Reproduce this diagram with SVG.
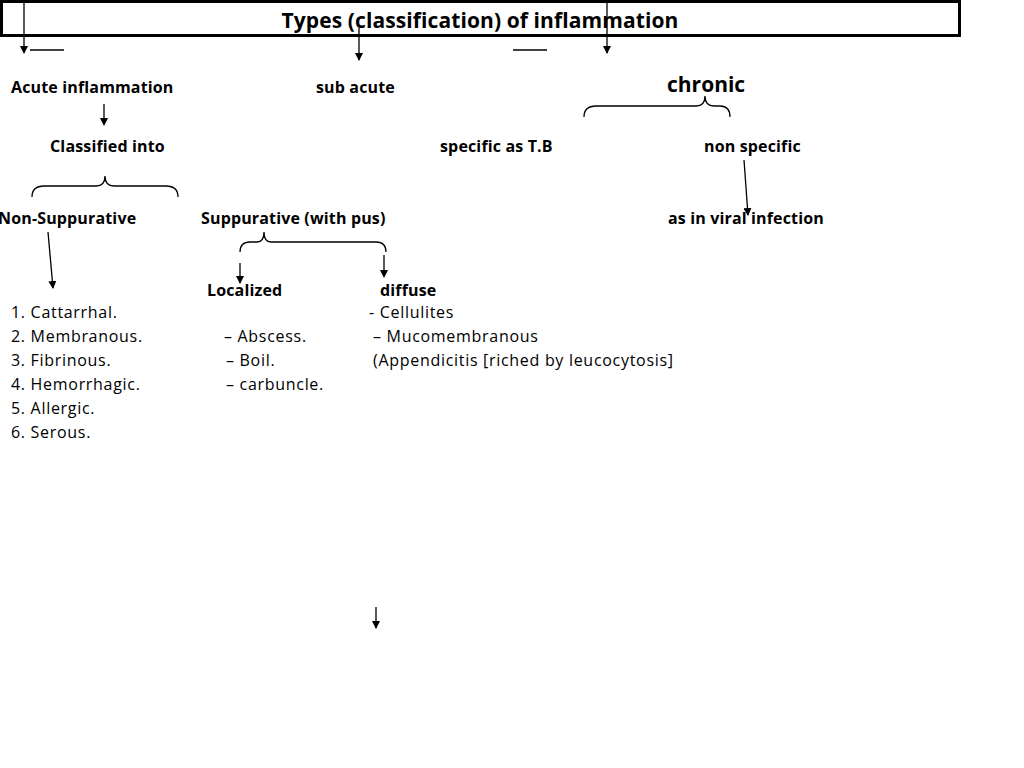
<svg xmlns="http://www.w3.org/2000/svg" width="1024" height="768" viewBox="0 0 1024 768">
<style>
text{font-family:"Open Sans","Liberation Sans",sans-serif;fill:#000}
.b{font-weight:bold;font-size:16px;letter-spacing:0.15px}
.n{font-size:16px;letter-spacing:0.7px}
.l{stroke:#000;stroke-width:1.3;fill:none}
</style>
<defs><marker id="a" markerWidth="8" markerHeight="8" refX="7" refY="4" orient="auto" markerUnits="userSpaceOnUse"><path d="M0,0L8,4L0,8z" fill="#000"/></marker></defs>
<rect width="1024" height="768" fill="#fff"/>
<g id="title"><rect x="1.5" y="1.5" width="958" height="34" fill="none" stroke="#000" stroke-width="3"/>
<text x="480" y="28" text-anchor="middle" style="font-weight:bold;font-size:21px;letter-spacing:0.1px">Types (classification) of inflammation</text></g>
<g id="connectors">
<line class="l" x1="24" y1="0" x2="24" y2="53" marker-end="url(#a)"/>
<line class="l" x1="359" y1="28" x2="359" y2="60" marker-end="url(#a)"/>
<line class="l" x1="607" y1="0" x2="607" y2="53" marker-end="url(#a)"/>
<line class="l" x1="30" y1="50" x2="64" y2="50"/>
<line class="l" x1="513" y1="50" x2="547" y2="50"/>
<line class="l" x1="104" y1="104" x2="104" y2="125" marker-end="url(#a)"/>
<line class="l" x1="744" y1="160" x2="748" y2="215" marker-end="url(#a)"/>
<line class="l" x1="48" y1="232" x2="53" y2="288" marker-end="url(#a)"/>
<line class="l" x1="240" y1="263" x2="240" y2="283" marker-end="url(#a)"/>
<line class="l" x1="384" y1="255" x2="384" y2="277" marker-end="url(#a)"/>
<line class="l" x1="376" y1="607" x2="376" y2="628" marker-end="url(#a)"/>
<path class="l" d="M32,197Q32,186 44,186L96,186Q105,186 105,176Q105,186 114,186L166,186Q178,186 178,197"/>
<path class="l" d="M584,117Q584,106 596,106L696,106Q705,106 705,96Q705,106 714,106L720,106Q730,106 730,117"/>
<path class="l" d="M240,252Q240,242 250,242L257,242Q264,242 264,232Q264,242 271,242L376,242Q386,242 386,252"/>
</g>
<g id="acute"><text class="b" x="11" y="93">Acute inflammation</text></g>
<g id="subacute"><text class="b" x="316" y="93">sub acute</text></g>
<g id="chronic"><text x="667" y="92" style="font-weight:bold;font-size:21px">chronic</text></g>
<g id="classified"><text class="b" x="50" y="152">Classified into</text></g>
<g id="specific"><text class="b" x="440" y="152">specific as T.B</text></g>
<g id="nonspecific"><text class="b" x="704" y="152">non specific</text></g>
<g id="nonsupp"><text class="b" x="-2" y="224">Non-Suppurative</text></g>
<g id="supp"><text class="b" x="201" y="224">Suppurative (with pus)</text></g>
<g id="viral"><text class="b" x="668" y="224">as in viral infection</text></g>
<g id="localized"><text class="b" x="207" y="296">Localized</text></g>
<g id="diffuse"><text class="b" x="380" y="296">diffuse</text></g>
<g id="list">
<text class="n" x="11" y="318">1. Cattarrhal.</text>
<text class="n" x="11" y="342">2. Membranous.</text>
<text class="n" x="11" y="366">3. Fibrinous.</text>
<text class="n" x="11" y="390">4. Hemorrhagic.</text>
<text class="n" x="11" y="414">5. Allergic.</text>
<text class="n" x="11" y="438">6. Serous.</text>
</g>
<g id="localList">
<text class="n" x="224" y="342">– Abscess.</text>
<text class="n" x="226" y="366">– Boil.</text>
<text class="n" x="226" y="390">– carbuncle.</text>
</g>
<g id="diffuseList">
<text class="n" x="369" y="318">- Cellulites</text>
<text class="n" x="373" y="342">– Mucomembranous</text>
<text class="n" x="373" y="366">(Appendicitis [riched by leucocytosis]</text>
</g>
</svg>
